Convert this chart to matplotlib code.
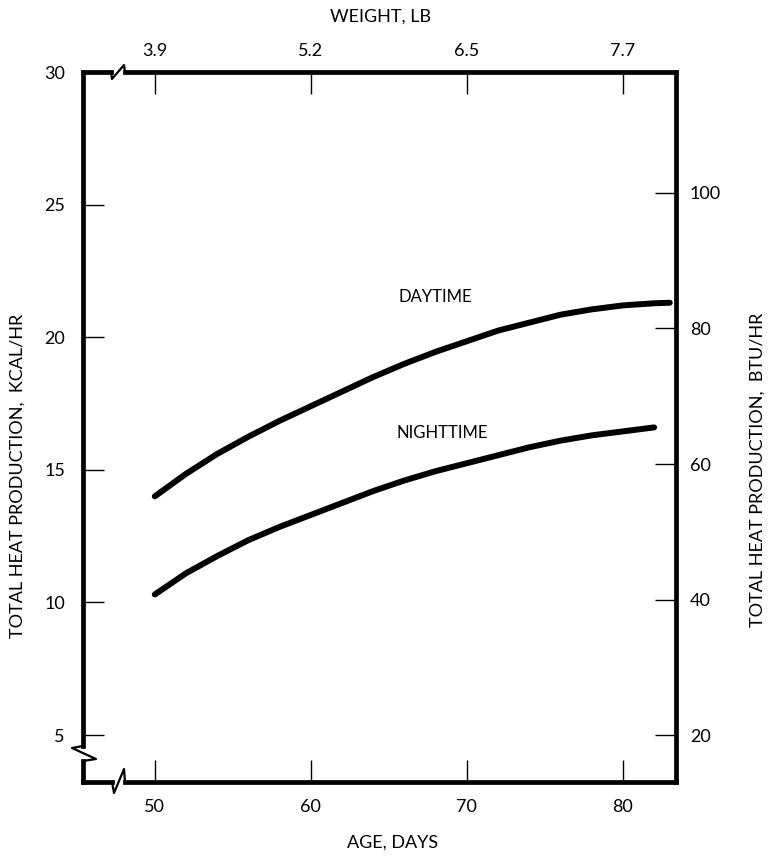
import numpy as np
import matplotlib
matplotlib.use('Agg')
import matplotlib.pyplot as plt
from matplotlib.lines import Line2D

plt.rcParams['font.family'] = ['Lato', 'DejaVu Sans']

# values
day_age = [50, 52, 54, 56, 58, 60, 62, 64, 66, 68, 70, 72, 74, 76, 78, 80, 82, 83]
day_kcal = [14.0, 14.85, 15.6, 16.25, 16.85, 17.4, 17.95, 18.5, 19.0, 19.45,
            19.85, 20.25, 20.55, 20.85, 21.05, 21.2, 21.28, 21.3]
night_age = [50, 52, 54, 56, 58, 60, 62, 64, 66, 68, 70, 72, 74, 76, 78, 80, 82]
night_kcal = [10.3, 11.1, 11.75, 12.35, 12.85, 13.3, 13.75, 14.2, 14.6, 14.95,
              15.25, 15.55, 15.85, 16.1, 16.3, 16.45, 16.6]

age_ticks = [50, 60, 70, 80]
weight_labels = ['3.9', '5.2', '6.5', '7.7']
kcal_ticks = [5, 10, 15, 20, 25, 30]
btu_ticks = [20, 40, 60, 80, 100]

# axes box in pixels of the reference
X0, X1, Y0, Y1 = 83, 676, 72, 782
W, H = 772, 858
XMIN, XMAX = 45.4, 83.4
YMIN, YMAX = 3.23, 30.0


def btu(k):
    return 3.914 * k + 0.43


def px(x, y):
    # pixel -> axes fraction
    return (x - X0) / (X1 - X0), (Y1 - y) / (Y1 - Y0)


fig = plt.figure(figsize=(W / 100, H / 100), dpi=100)
ax = fig.add_axes([X0 / W, 1 - Y1 / H, (X1 - X0) / W, (Y1 - Y0) / H])

ax.plot(day_age, day_kcal, color='black', lw=4.3,
        solid_capstyle='round', solid_joinstyle='round')
ax.plot(night_age, night_kcal, color='black', lw=4.3,
        solid_capstyle='round', solid_joinstyle='round')

ax.text(68.0, 21.52, 'DAYTIME', ha='center', va='center', fontsize=12)
ax.text(68.4, 16.39, 'NIGHTTIME', ha='center', va='center', fontsize=12)

ax.set_xlim(XMIN, XMAX)
ax.set_ylim(YMIN, YMAX)
ax.set_xticks(age_ticks)
ax.set_yticks(kcal_ticks)
ax.tick_params(axis='x', direction='in', length=16, width=1.0, pad=12, labelsize=13)
ax.tick_params(axis='y', direction='in', length=15, width=1.0, pad=13, labelsize=13)

ax2 = ax.twinx()
ax2.set_ylim(btu(YMIN), btu(YMAX))
ax2.set_yticks(btu_ticks)
ax2.tick_params(axis='y', direction='in', length=15, width=1.0, pad=10, labelsize=13)

sec = ax.secondary_xaxis('top')
sec.set_xticks(age_ticks, labels=weight_labels)
sec.tick_params(axis='x', direction='in', length=16, width=1.0, pad=9, labelsize=13)

for a in (ax, ax2, sec):
    for s in a.spines.values():
        s.set_visible(False)

# frame drawn by hand so the breaks can be put in
frame = [
    [(X0, Y0), (X0, 746)], [(X0, 761), (X0, Y1)],
    [(X0, Y1), (112, Y1)], [(125, Y1), (X1, Y1)],
    [(X1, Y0), (X1, Y1)],
    [(X0, Y0), (111, Y0)], [(125, Y0), (X1, Y0)],
]
for seg in frame:
    pts = [px(*p) for p in seg]
    ax.add_line(Line2D([p[0] for p in pts], [p[1] for p in pts], transform=ax.transAxes,
                       color='black', lw=3.4, solid_capstyle='projecting', clip_on=False))

breaks = [
    [(111, 72), (112, 79), (124, 65), (125, 72)],
    [(112, 782), (114, 793), (124, 769), (125, 782)],
    [(83, 746), (72, 748), (96, 759), (83, 761)],
]
for seg in breaks:
    pts = [px(*p) for p in seg]
    ax.add_line(Line2D([p[0] for p in pts], [p[1] for p in pts], transform=ax.transAxes,
                       color='black', lw=1.6, clip_on=False))

fig.text(393 / W, 1 - 843 / H, 'AGE, DAYS', ha='center', va='center', fontsize=13)
fig.text(380 / W, 1 - 17 / H, 'WEIGHT, LB', ha='center', va='center', fontsize=13)
fig.text(18 / W, 1 - 476 / H, 'TOTAL HEAT PRODUCTION,  KCAL/HR', rotation=90,
         ha='center', va='center', fontsize=13)
fig.text(758 / W, 1 - 470 / H, 'TOTAL HEAT PRODUCTION,  BTU/HR', rotation=90,
         ha='center', va='center', fontsize=13)

fig.savefig('out.png', dpi=100)
